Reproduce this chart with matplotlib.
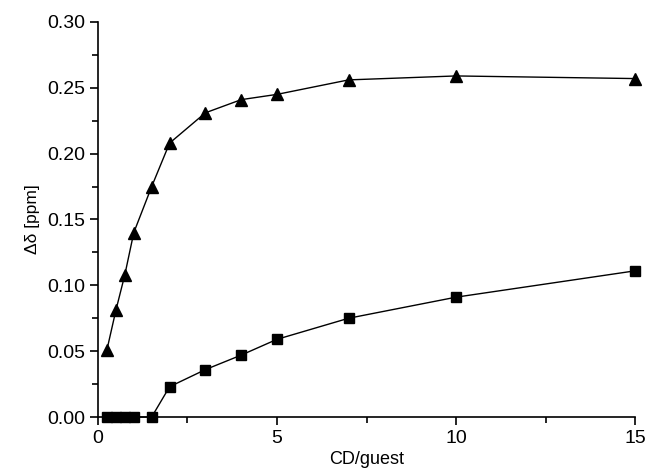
import matplotlib
matplotlib.use("Agg")
import matplotlib.pyplot as plt
from matplotlib.ticker import MultipleLocator

plt.rcParams['font.family'] = ['Liberation Sans', 'DejaVu Sans']

x_tri = [0.25, 0.5, 0.75, 1.0, 1.5, 2, 3, 4, 5, 7, 10, 15]
y_tri = [0.051, 0.081, 0.108, 0.140, 0.175, 0.208, 0.231, 0.241, 0.245, 0.256, 0.259, 0.257]

x_sq = [0.25, 0.5, 0.75, 1.0, 1.5, 2, 3, 4, 5, 7, 10, 15]
y_sq = [0.0, 0.0, 0.0, 0.0, 0.0, 0.023, 0.036, 0.047, 0.059, 0.075, 0.091, 0.111]

fig = plt.figure(figsize=(6.51, 4.72), dpi=100)
ax = fig.add_axes([0.1505, 0.1165, 0.825, 0.837])

ax.plot(x_tri, y_tri, color='black', lw=1, marker='^', ms=9, clip_on=False)
ax.plot(x_sq, y_sq, color='black', lw=1, marker='s', ms=7, clip_on=False)

ax.set_xlim(0, 15)
ax.set_ylim(0, 0.30)
ax.xaxis.set_major_locator(MultipleLocator(5))
ax.xaxis.set_minor_locator(MultipleLocator(2.5))
ax.yaxis.set_major_locator(MultipleLocator(0.05))
ax.yaxis.set_minor_locator(MultipleLocator(0.025))
ax.yaxis.set_major_formatter(plt.FuncFormatter(lambda v, p: f"{v:.2f}"))

ax.spines['top'].set_visible(False)
ax.spines['right'].set_visible(False)
for s in ['left', 'bottom']:
    ax.spines[s].set_linewidth(1.2)
ax.tick_params(which='major', direction='out', length=6, width=1.2, labelsize=14)
ax.tick_params(which='minor', direction='out', length=4, width=1.2)

ax.set_xlabel("CD/guest", fontsize=13, labelpad=3)
ax.set_ylabel("Δδ [ppm]", fontsize=12.5, labelpad=5)

fig.savefig("out.png", dpi=100)
